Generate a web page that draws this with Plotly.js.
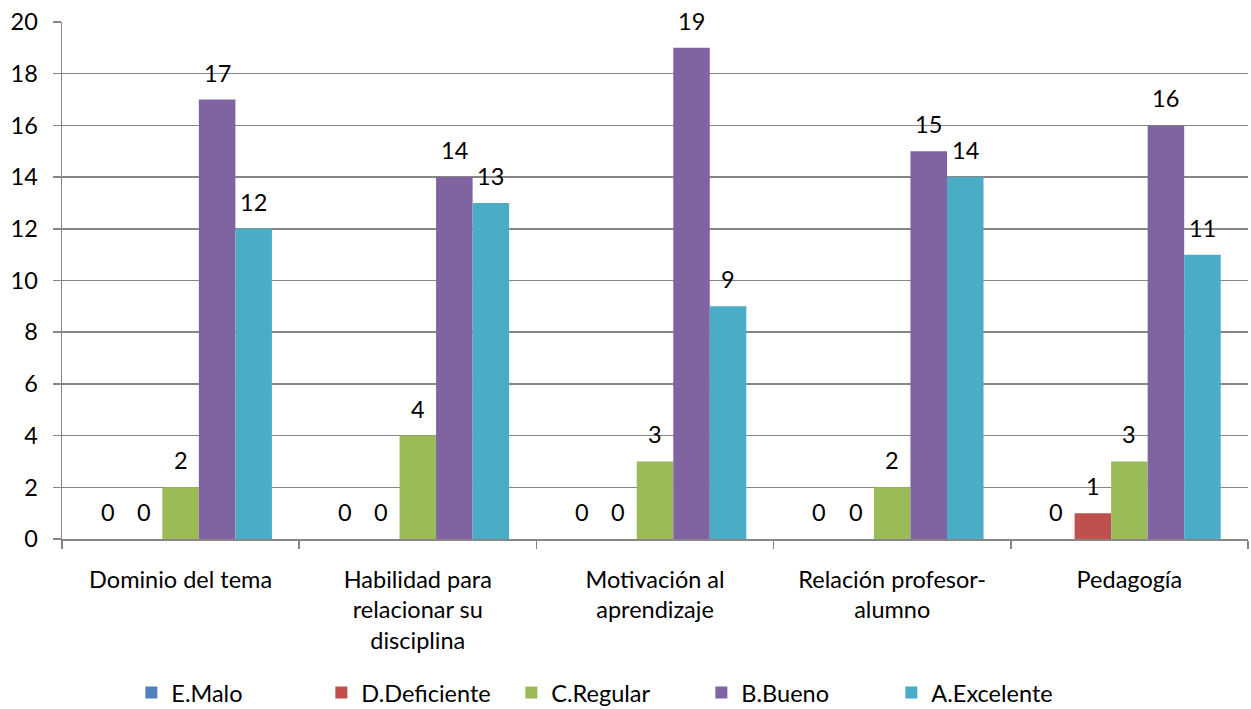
<!DOCTYPE html>
<html>
<head>
<meta charset="utf-8">
<script src="https://cdn.plot.ly/plotly-3.0.1.min.js"></script>
<style>html,body{margin:0;padding:0;background:#fff;}#chart{width:1251px;height:709px;}</style>
</head>
<body>
<div id="chart"></div>
<script>
const categories = ["Dominio del tema", "Habilidad para<br>relacionar su<br>disciplina", "Motivación al<br>aprendizaje", "Relación profesor-<br>alumno", "Pedagogía"];
const seriesNames = ["E.Malo", "D.Deficiente", "C.Regular", "B.Bueno", "A.Excelente"];
const malo = [0, 0, 0, 0, 0];
const deficiente = [0, 0, 0, 0, 1];
const regular = [2, 4, 3, 2, 3];
const bueno = [17, 14, 19, 15, 16];
const excelente = [12, 13, 9, 14, 11];
const colors = ["#4F81BD", "#C0504D", "#9BBB59", "#8064A2", "#4BACC6"];
const yTicks = [0, 2, 4, 6, 8, 10, 12, 14, 16, 18, 20];

const allSeries = [malo, deficiente, regular, bueno, excelente];
const FONT = "Lato, 'Open Sans', sans-serif";
const FS = 23.5;
const bargap = 0.23;

const traces = allSeries.map((vals, i) => ({
  type: 'bar',
  name: seriesNames[i],
  x: categories,
  y: vals,
  marker: {color: colors[i], line: {width: 0}},
  hoverinfo: 'y'
}));

const n = allSeries.length;
const slot = (1 - bargap) / n;
const annotations = [];
allSeries.forEach((vals, i) => {
  vals.forEach((v, c) => {
    annotations.push({
      xref: 'x', yref: 'y',
      x: c + (i - (n - 1) / 2) * slot,
      y: v,
      text: String(v),
      showarrow: false,
      yanchor: 'middle',
      yshift: 27,
      font: {family: FONT, size: FS, color: '#000'}
    });
  });
});

const layout = {
  width: 1251, height: 709,
  margin: {l: 62, r: 3, t: 22, b: 170, autoexpand: false},
  paper_bgcolor: '#fff', plot_bgcolor: '#fff',
  barmode: 'group',
  bargap: bargap, bargroupgap: 0,
  font: {family: FONT, size: FS, color: '#000'},
  showlegend: true,
  legend: {
    orientation: 'h', xref: 'container', yref: 'container',
    x: 0.105, xanchor: 'left', y: 0.023, yanchor: 'middle',
    entrywidth: 145, entrywidthmode: 'pixels',
    font: {family: FONT, size: FS, color: '#000'},
    itemwidth: 30, traceorder: 'normal'
  },
  xaxis: {
    type: 'category', automargin: false,
    showline: true, linecolor: '#868686', linewidth: 1.5,
    ticks: 'outside', tickson: 'boundaries', ticklen: 8, tickcolor: '#868686', tickwidth: 1.5,
    showgrid: false, zeroline: false,
    tickfont: {family: FONT, size: FS, color: '#000'},
    ticklabelstandoff: 19
  },
  yaxis: {
    range: [0, 20], tickvals: yTicks, ticktext: yTicks.map(String), automargin: false,
    showline: true, linecolor: '#868686', linewidth: 1.5,
    ticks: 'outside', ticklen: 8, tickcolor: '#868686', tickwidth: 1.5,
    showgrid: true, gridcolor: '#868686', gridwidth: 1.5,
    zeroline: false,
    tickfont: {family: FONT, size: FS, color: '#000'},
    ticklabelstandoff: 10
  },
  annotations: annotations
};

Plotly.newPlot('chart', traces, layout, {displayModeBar: false, staticPlot: true});
</script>
</body>
</html>
